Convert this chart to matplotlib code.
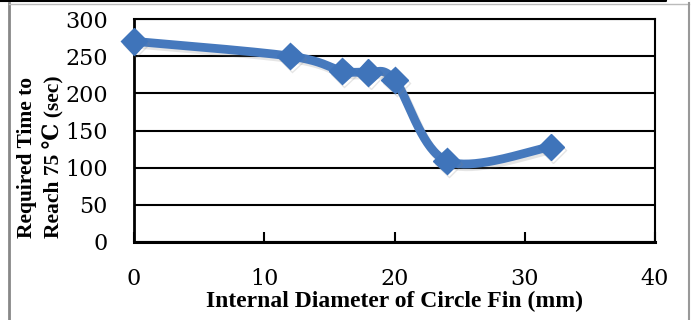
import numpy as np
import matplotlib.pyplot as plt
from matplotlib import patheffects as pe
from matplotlib.lines import Line2D

# data
diameter = [0, 12, 16, 18, 20, 24, 32]
time_sec = [270, 250, 230, 228, 218, 109, 128]

x_ticks = [0, 10, 20, 30, 40]
y_ticks = [0, 50, 100, 150, 200, 250, 300]

W, H = 691, 320
blue = '#4679BD'
serif = ['Liberation Serif', 'DejaVu Serif']


def smooth(xs, ys, sx, sy, n=40):
    # Excel style smoothed line: bezier through the points, tension 1/6
    p = np.column_stack([np.asarray(xs, float) * sx, np.asarray(ys, float) * sy])
    ext = np.vstack([p[0], p, p[-1]])
    t = np.linspace(0, 1, n)[:, None]
    segs = []
    for i in range(len(p) - 1):
        p0, p1, p2, p3 = ext[i], ext[i + 1], ext[i + 2], ext[i + 3]
        c1 = p1 + (p2 - p0) / 6
        c2 = p2 - (p3 - p1) / 6
        segs.append((1 - t) ** 3 * p1 + 3 * (1 - t) ** 2 * t * c1
                    + 3 * (1 - t) * t ** 2 * c2 + t ** 3 * p2)
    out = np.vstack(segs)
    return out[:, 0] / sx, out[:, 1] / sy


def fx(x):
    return x / W


def fy(y):
    return 1 - y / H


fig = plt.figure(figsize=(W / 100, H / 100), dpi=100)
ax = fig.add_axes([fx(134), fy(242), (655 - 134) / W, (242 - 19) / H])

ax.set_xlim(0, 40)
ax.set_ylim(0, 300)
ax.set_xticks(x_ticks)
ax.set_yticks(y_ticks)

ax.yaxis.grid(True, color='black', lw=1.5)
ax.set_axisbelow(True)
for side in ['left', 'right', 'top']:
    ax.spines[side].set_linewidth(1.5)
ax.spines['bottom'].set_linewidth(2.2)
ax.spines['left'].set_linewidth(2.0)

ax.tick_params(axis='y', length=0, pad=19)
ax.tick_params(axis='x', direction='in', length=7, width=1.5, pad=19)
for lab in ax.get_xticklabels() + ax.get_yticklabels():
    lab.set_fontfamily('DejaVu Serif')
    lab.set_fontsize(16)

sx, sy = 521 / 40, 223 / 300
xs, ys = smooth(diameter, time_sec, sx, sy)
shadow = [pe.SimpleLineShadow(offset=(1.5, -2), shadow_color='gray', alpha=0.2), pe.Normal()]
ax.plot(xs, ys, color=blue, lw=6.3, solid_capstyle='round', clip_on=False,
        path_effects=shadow, zorder=3)
ax.plot(diameter, time_sec, ls='none', marker='D', ms=13.5, color='#3F74BA',
        clip_on=False, path_effects=shadow, zorder=4)

ax.set_xlabel('Internal Diameter of Circle Fin (mm)', family=serif,
              fontweight='bold', fontsize=17, labelpad=0)

fig.text(fx(41), fy(238), 'Required Time to\nReach 75 \u2103 (sec)', rotation=90,
         ha='center', va='bottom', multialignment='left', family=serif,
         fontweight='bold', fontsize=15.5, linespacing=1.4)

# frame lines around the picture
fig.add_artist(Line2D([fx(0), fx(666), fx(666)], [fy(1), fy(1), fy(0)],
                      color='black', lw=1.5))
fig.add_artist(Line2D([fx(8.5), fx(8.5)], [fy(3), fy(320)], color='#888888', lw=2))
fig.add_artist(Line2D([fx(9), fx(689)], [fy(3.5), fy(3.5)], color='#bbbbbb', lw=1))
fig.add_artist(Line2D([fx(689), fx(689)], [fy(3), fy(320)], color='#999999', lw=1.5))

fig.savefig('out.png', dpi=100)
